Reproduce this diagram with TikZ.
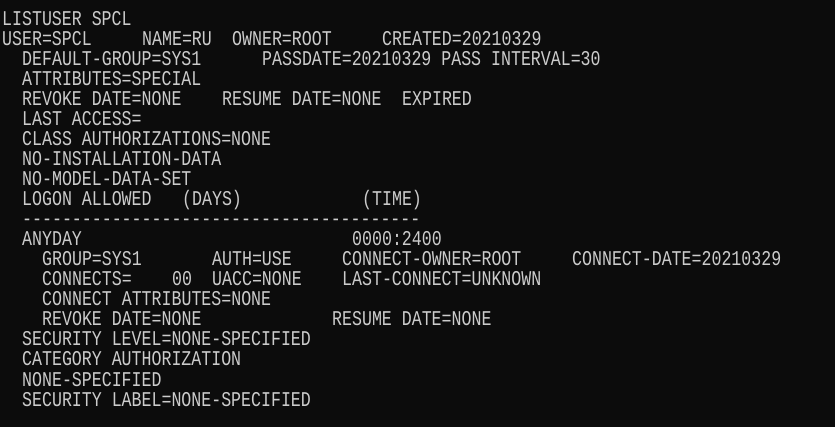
\documentclass[tikz,border=0pt]{standalone}
\usepackage{fontspec}
\setmonofont[FakeStretch=0.79]{Liberation Mono}
\definecolor{termbg}{RGB}{12,12,12}
\definecolor{termfg}{RGB}{204,204,204}

\begin{document}
\begin{tikzpicture}[
  x = 10pt,
  y = -20pt,
  term/.style={anchor=base west, inner sep=0pt, xshift=2pt, text=termfg,
    font=\ttfamily\fontsize{21}{24}\selectfont},
  ]
  \fill[termbg] (0,0) rectangle (83.5,21.35);
  \useasboundingbox (0,0) rectangle (83.5,21.35);

  \node[term] (cmd) at (0,1.3) {LISTUSER SPCL};
  \node[term] (user) at (0,2.3) {USER=SPCL};
  \node[term] (name) at (14,2.3) {NAME=RU};
  \node[term] (owner) at (23,2.3) {OWNER=ROOT};
  \node[term] (created) at (38,2.3) {CREATED=20210329};
  \node[term] (dfltgrp) at (2,3.3) {DEFAULT-GROUP=SYS1};
  \node[term] (passdate) at (26,3.3) {PASSDATE=20210329 PASS INTERVAL=30};
  \node[term] (attribs) at (2,4.3) {ATTRIBUTES=SPECIAL};
  \node[term] (revoke) at (2,5.3) {REVOKE DATE=NONE};
  \node[term] (resume) at (22,5.3) {RESUME DATE=NONE};
  \node[term] (expired) at (40,5.3) {EXPIRED};
  \node[term] (lastacc) at (2,6.3) {LAST ACCESS=};
  \node[term] (classauth) at (2,7.3) {CLASS AUTHORIZATIONS=NONE};
  \node[term] (noinst) at (2,8.3) {NO-INSTALLATION-DATA};
  \node[term] (nomodel) at (2,9.3) {NO-MODEL-DATA-SET};
  \node[term] (logon) at (2,10.3) {LOGON ALLOWED};
  \node[term] (days) at (18,10.3) {(DAYS)};
  \node[term] (time) at (36,10.3) {(TIME)};
  \node[term] (rule) at (2,11.3) {----------------------------------------};
  \node[term] (anyday) at (2,12.3) {ANYDAY};
  \node[term] (hours) at (35,12.3) {0000:2400};
  \node[term] (group) at (4,13.3) {GROUP=SYS1};
  \node[term] (auth) at (21,13.3) {AUTH=USE};
  \node[term] (connowner) at (34,13.3) {CONNECT-OWNER=ROOT};
  \node[term] (conndate) at (57,13.3) {CONNECT-DATE=20210329};
  \node[term] (connects) at (4,14.3) {CONNECTS=};
  \node[term] (count) at (17,14.3) {00};
  \node[term] (uacc) at (21,14.3) {UACC=NONE};
  \node[term] (lastconn) at (34,14.3) {LAST-CONNECT=UNKNOWN};
  \node[term] (connattr) at (4,15.3) {CONNECT ATTRIBUTES=NONE};
  \node[term] (connrevoke) at (4,16.3) {REVOKE DATE=NONE};
  \node[term] (connresume) at (33,16.3) {RESUME DATE=NONE};
  \node[term] (seclevel) at (2,17.3) {SECURITY LEVEL=NONE-SPECIFIED};
  \node[term] (catauth) at (2,18.3) {CATEGORY AUTHORIZATION};
  \node[term] (nonespec) at (2,19.3) {NONE-SPECIFIED};
  \node[term] (seclabel) at (2,20.3) {SECURITY LABEL=NONE-SPECIFIED};
\end{tikzpicture}
\end{document}
